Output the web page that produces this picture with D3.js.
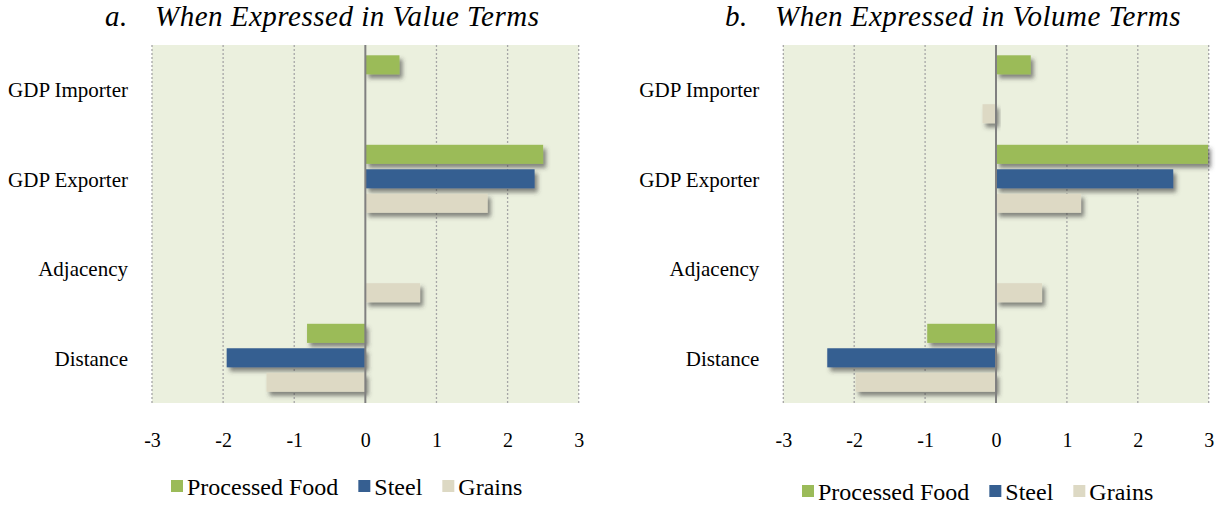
<!DOCTYPE html>
<html>
<head>
<meta charset="utf-8">
<script src="https://cdn.jsdelivr.net/npm/d3@7"></script>
<style>
  body { margin: 0; background: #fff; }
  text { font-family: "Liberation Serif", "Times New Roman", serif; fill: #000; }
</style>
</head>
<body>
<svg class="chart" width="1220" height="506"></svg>
<script>
var categories = ["GDP Importer", "GDP Exporter", "Adjacency", "Distance"];
var seriesNames = ["Processed Food", "Steel", "Grains"];
var seriesColors = ["#9bbb59", "#365f91", "#ddd9c4"];
var ticks = [-3, -2, -1, 0, 1, 2, 3];

// values per category, order: Processed Food, Steel, Grains (null = no bar)
var valueTerms = [
  [0.48, null, null],
  [2.5, 2.38, 1.72],
  [null, null, 0.77],
  [-0.82, -1.95, -1.39]
];
var volumeTerms = [
  [0.49, null, -0.19],
  [2.99, 2.5, 1.2],
  [null, null, 0.65],
  [-0.97, -2.38, -1.98]
];

var panels = [
  { letter: "a.", title: "When Expressed in Value Terms", values: valueTerms,
    left: 152, right: 578.7, letterX: 105, titleX: 155, legendX: 171, legendY: 480 },
  { letter: "b.", title: "When Expressed in Volume Terms", values: volumeTerms,
    left: 783.3, right: 1208.7, letterX: 725, titleX: 775, legendX: 802, legendY: 485 }
];

var svg = d3.select(".chart"),
    plotTop = 45, plotBottom = 403;

var defs = svg.append("defs");
defs.append("filter")
    .attr("id", "shadow")
    .attr("x", "-20%").attr("y", "-50%")
    .attr("width", "150%").attr("height", "250%")
  .append("feDropShadow")
    .attr("dx", 3).attr("dy", 4)
    .attr("stdDeviation", 2.2)
    .attr("flood-color", "#3a3a3a")
    .attr("flood-opacity", 0.6);

var y0 = d3.scaleBand().domain(categories).range([plotTop, plotBottom]);
var y1 = d3.scaleBand().domain(seriesNames)
    .range([y0.bandwidth() * 0.115, y0.bandwidth() * 0.875])
    .paddingInner(0.22);

panels.forEach(function(p) {
    var x = d3.scaleLinear().domain([-3, 3]).range([p.left, p.right]);
    var g = svg.append("g");

    // plot background
    g.append("rect")
        .attr("x", x(-3)).attr("y", plotTop)
        .attr("width", x(3) - x(-3)).attr("height", plotBottom - plotTop)
        .attr("fill", "#ebf0de");

    // dotted gridlines
    g.append("g").selectAll("line")
        .data(ticks.filter(function(t) { return t !== 0; }))
        .enter().append("line")
        .attr("x1", function(d) { return x(d); })
        .attr("x2", function(d) { return x(d); })
        .attr("y1", plotTop).attr("y2", plotBottom)
        .attr("stroke", "#a6a6a6")
        .attr("stroke-width", 1.3)
        .attr("stroke-dasharray", "2,2");

    // bars
    var rows = [];
    p.values.forEach(function(vals, i) {
        vals.forEach(function(v, j) {
            if (v !== null) rows.push({ cat: categories[i], s: seriesNames[j], c: seriesColors[j], v: v });
        });
    });

    g.append("g").selectAll("rect")
        .data(rows)
        .enter().append("rect")
        .attr("x", function(d) { return Math.min(x(0), x(d.v)); })
        .attr("y", function(d) { return y0(d.cat) + y1(d.s); })
        .attr("width", function(d) { return Math.abs(x(d.v) - x(0)); })
        .attr("height", y1.bandwidth())
        .attr("fill", function(d) { return d.c; })
        .attr("filter", "url(#shadow)");

    // zero line
    g.append("line")
        .attr("x1", x(0)).attr("x2", x(0))
        .attr("y1", plotTop).attr("y2", plotBottom)
        .attr("stroke", "#808080")
        .attr("stroke-width", 2);

    // x axis labels
    var axis = g.append("g")
        .attr("transform", "translate(0,447)")
        .call(d3.axisBottom(x).tickValues(ticks).tickSize(0).tickPadding(0)
            .tickFormat(function(d) { return String(d); }));
    axis.select(".domain").remove();
    axis.selectAll("text")
        .attr("dy", 0)
        .style("font-family", "'Liberation Serif', serif")
        .style("font-size", "20px")
        .attr("fill", "#000");

    // category labels
    g.append("g").selectAll("text")
        .data(categories)
        .enter().append("text")
        .attr("x", p.left - 24)
        .attr("y", function(d) { return y0(d) + y0.bandwidth() / 2 + 7.5; })
        .attr("text-anchor", "end")
        .style("font-size", "21px")
        .text(function(d) { return d; });

    // title
    g.append("text")
        .attr("x", p.letterX).attr("y", 26)
        .style("font-size", "29px").style("font-style", "italic")
        .style("letter-spacing", "0.5px")
        .text(p.letter);
    g.append("text")
        .attr("x", p.titleX).attr("y", 26)
        .style("font-size", "29px").style("font-style", "italic")
        .style("letter-spacing", "0.5px")
        .text(p.title);

    // legend
    var lx = p.legendX;
    seriesNames.forEach(function(name, i) {
        g.append("rect")
            .attr("x", lx).attr("y", p.legendY)
            .attr("width", 12).attr("height", 12)
            .attr("fill", seriesColors[i]);
        var t = g.append("text")
            .attr("x", lx + 16).attr("y", p.legendY + 15)
            .style("font-size", "24px")
            .text(name);
        lx += 16 + t.node().getComputedTextLength() + 20;
    });
});
</script>
</body>
</html>
